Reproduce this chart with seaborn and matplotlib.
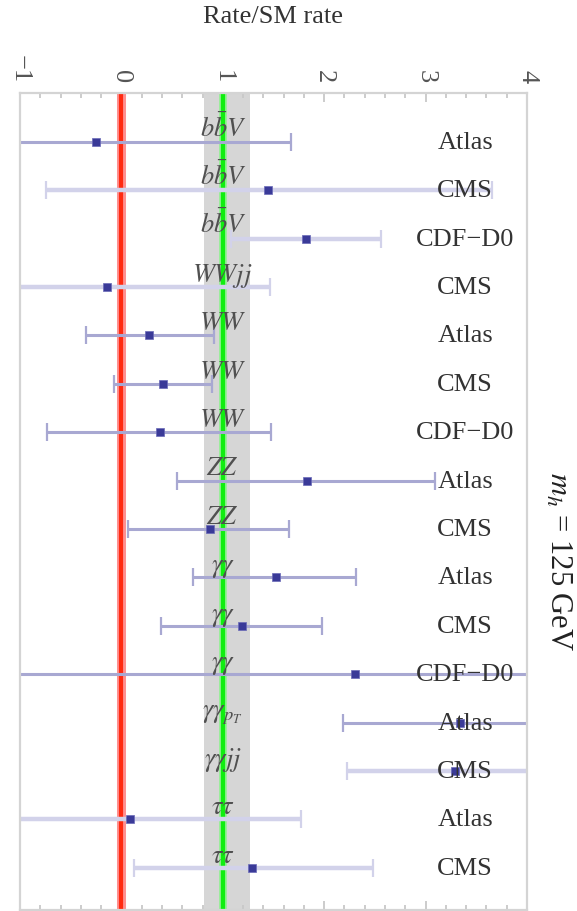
import numpy as np
import pandas as pd
import matplotlib
matplotlib.use('Agg')
import matplotlib.pyplot as plt
import seaborn as sns

# Higgs signal strengths, m_h = 125 GeV
channels = [r'$b\bar{b}V$', r'$b\bar{b}V$', r'$b\bar{b}V$', r'$WWjj$',
            r'$WW$', r'$WW$', r'$WW$', r'$ZZ$', r'$ZZ$',
            r'$\gamma\gamma$', r'$\gamma\gamma$', r'$\gamma\gamma$',
            r'$\gamma\gamma_{p_T}$', r'$\gamma\gamma jj$', r'$\tau\tau$', r'$\tau\tau$']
experiments = ['Atlas', 'CMS', 'CDF\u2212D0', 'CMS', 'Atlas', 'CMS', 'CDF\u2212D0',
               'Atlas', 'CMS', 'Atlas', 'CMS', 'CDF\u2212D0', 'Atlas', 'CMS',
               'Atlas', 'CMS']
rate = [-0.25, 1.45, 1.82, -0.14, 0.27, 0.41, 0.38, 1.83, 0.87,
        1.52, 1.19, 2.30, 3.34, 3.29, 0.08, 1.29]
rate_lo = [-2.2, -0.74, 1.08, -1.75, -0.35, -0.07, -0.73, 0.55, 0.07,
           0.71, 0.39, -1.2, 2.19, 2.22, -1.6, 0.12]
rate_hi = [1.67, 3.65, 2.56, 1.47, 0.91, 0.89, 1.48, 3.09, 1.65,
           2.31, 1.98, 5.8, 4.5, 4.4, 1.77, 2.48]
sm_band = [0.81, 1.27]
x_ticks = [-1, 0, 1, 2, 3, 4]

# rows drawn with the paler bar
faint_rows = [1, 2, 3, 13, 14, 15]

df = pd.DataFrame({'channel': channels, 'experiment': experiments,
                   'rate': rate, 'lo': rate_lo, 'hi': rate_hi})
df['row'] = np.arange(len(df))

sns.set_style('white')
plt.rcParams['font.family'] = ['Liberation Serif', 'DejaVu Serif']
plt.rcParams['mathtext.fontset'] = 'stix'

W, H = 577, 912
fig = plt.figure(figsize=(W / 100, H / 100), dpi=100)
ax = fig.add_axes([20 / W, 1 / H, 507 / W, 817 / H])

ax.axvspan(sm_band[0], sm_band[1], color='#d6d6d6', lw=0, zorder=0)
ax.axvline(0, color='#ff9090', lw=6.5, zorder=1)
ax.axvline(0, color='#ff2a10', lw=3, zorder=1)
ax.axvline(1, color='#90f090', lw=5.5, zorder=1)
ax.axvline(1, color='#10ee10', lw=3, zorder=1)

for _, r in df.iterrows():
    faint = r['row'] in faint_rows
    ax.errorbar(r['rate'], r['row'],
                xerr=[[r['rate'] - r['lo']], [r['hi'] - r['rate']]],
                fmt='none', ecolor='#d2d2ea' if faint else '#a8a8d2',
                elinewidth=3.2 if faint else 2.2, capsize=6.5, capthick=1.6,
                zorder=2)

sns.scatterplot(data=df, x='rate', y='row', ax=ax, marker='s', s=32,
                color='#3a3a98', edgecolor='#6a6ab8', linewidth=0.5,
                zorder=3, legend=False)

for _, r in df.iterrows():
    ax.text(1, r['row'] - 0.13, r['channel'], ha='center', va='baseline',
            fontsize=19, color='#505050', zorder=4)
    ax.text(3.39, r['row'], r['experiment'], ha='center', va='center',
            fontsize=19, color='#333333', zorder=4)

ax.set_xlim(-1, 4)
ax.set_ylim(15.87, -1.01)
ax.set_xlabel('')
ax.set_ylabel('')
ax.set_yticks([])
ax.set_xticks(x_ticks)
ax.set_xticks(np.arange(-1, 4.01, 0.2), minor=True)
ax.tick_params(axis='x', which='both', direction='in', top=True, bottom=True,
               labeltop=True, labelbottom=False, color='#c8c8c8', width=1.3)
ax.tick_params(axis='x', which='major', length=6.5, pad=8, labelsize=19,
               labelcolor='#555555', labelrotation=-90)
ax.tick_params(axis='x', which='minor', length=3.5)
for lab in ax.get_xticklabels():
    lab.set_rotation(-90)
for s in ax.spines.values():
    s.set_color('#d4d4d4')
    s.set_linewidth(1.6)

fig.text(273 / W, 1 - 17 / H, 'Rate/SM rate', ha='center', va='center',
         fontsize=19, color='#333333')
fig.text(558 / W, 1 - 562 / H, r'$m_h$ = 125 GeV', ha='center', va='center',
         rotation=-90, fontsize=22, color='#222222')

fig.savefig('out.png', dpi=100)
